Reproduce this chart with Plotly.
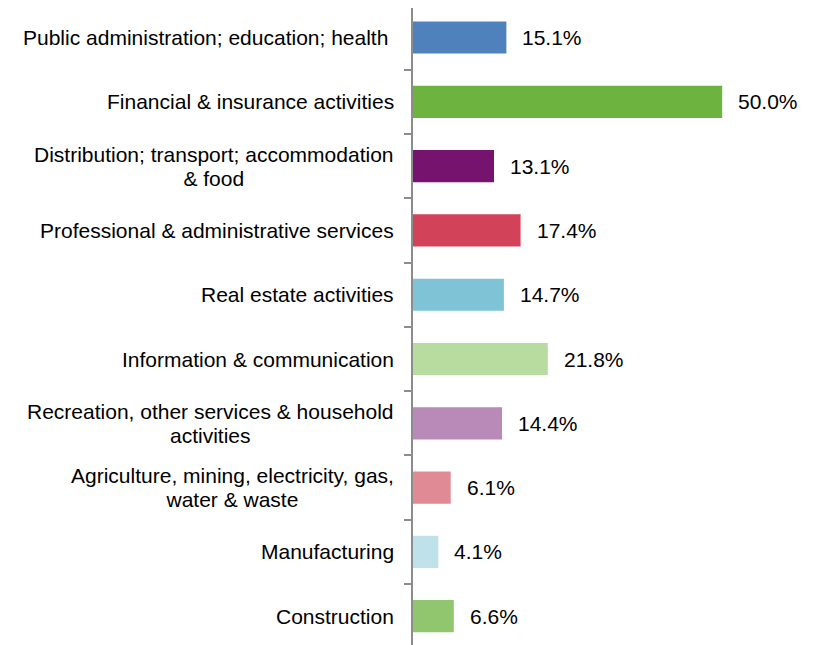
import plotly.graph_objects as go

categories = [
    "Public administration; education; health ",
    "Financial & insurance activities",
    "Distribution; transport; accommodation<br>& food",
    "Professional & administrative services",
    "Real estate activities",
    "Information & communication",
    "Recreation, other services & household<br>activities",
    "Agriculture, mining, electricity, gas,<br>water & waste",
    "Manufacturing",
    "Construction",
]
values = [15.1, 50.0, 13.1, 17.4, 14.7, 21.8, 14.4, 6.1, 4.1, 6.6]
colors = ["#4F81BD", "#6DB33F", "#76136E", "#D2435A", "#7FC4D6",
          "#B8DBA0", "#B98AB8", "#E08A96", "#BFE2EA", "#92C66E"]

font_family = "Liberation Sans, Arial, sans-serif"
fs = 21

fig = go.Figure(go.Bar(
    x=values, y=categories, orientation="h",
    marker=dict(color=colors, line=dict(width=0)),
    width=0.5,
))

annotations = []
for c, v in zip(categories, values):
    annotations.append(dict(
        x=v, y=c, xref="x", yref="y", text=f"{v:.1f}%",
        xanchor="left", yanchor="middle", xshift=14, showarrow=False,
        font=dict(family=font_family, size=fs, color="#000000"),
    ))
    lines = c.split("<br>")
    label = "<br>".join(f'<span style="font-size:{fs}px">{ln}</span>' for ln in lines)
    annotations.append(dict(
        x=0, y=c, xref="paper", yref="y", text=label,
        xanchor="right", yanchor="middle", xshift=-17, showarrow=False,
        align="center",
        font=dict(family=font_family, size=18.5, color="#000000"),
    ))

fig.update_layout(
    width=805, height=637,
    margin=dict(l=405, r=29, t=0, b=0, pad=0, autoexpand=False),
    paper_bgcolor="white", plot_bgcolor="white",
    showlegend=False,
    annotations=annotations,
    xaxis=dict(range=[0, 60], visible=False, fixedrange=True, automargin=False),
    yaxis=dict(
        type="category", range=[9.448, -0.459], automargin=False,
        showticklabels=False, tickson="boundaries",
        ticks="outside", ticklen=7, tickcolor="#8C8C8C", tickwidth=2,
        showline=True, linecolor="#8C8C8C", linewidth=2,
        showgrid=False, zeroline=False, fixedrange=True,
    ),
)

fig.write_html("out.html")
